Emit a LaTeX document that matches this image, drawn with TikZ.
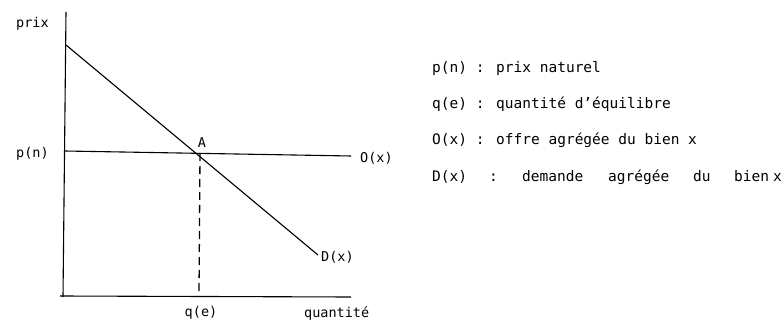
\documentclass[tikz,border=0pt]{standalone}
\usepackage{fontspec}
\setmainfont{DejaVu Sans Mono}
\begin{document}
\begin{tikzpicture}[x=1pt,y=-1pt,
  lbl/.style={inner sep=0pt,font=\fontsize{13.5}{15}\selectfont},
  leg/.style={inner sep=0pt,anchor=base west,font=\fontsize{14.5}{16}\selectfont},
  curve/.style={line width=1.1pt,black},
  dashline/.style={line width=1.3pt,dash pattern=on 8pt off 5pt}]
\useasboundingbox (0,0) rectangle (784,321);
% axes
\coordinate (ytop) at (66,12);
\coordinate (orig) at (63,297);
\coordinate (xstart) at (60,296);
\coordinate (xend) at (351,297);
\draw[curve] (ytop) -- (orig);
\draw[curve] (xstart) -- (xend);
% demand
\coordinate (d0) at (66,45);
\coordinate (d1) at (318,255);
\draw[curve] (d0) -- (d1);
% supply
\coordinate (o0) at (65,151);
\coordinate (o1) at (351,156);
\draw[curve] (o0) -- (o1);
% dashed
\coordinate (A) at (200,153);
\coordinate (qe) at (199,296);
\draw[dashline] (A) -- (qe);
% labels
\node[lbl,anchor=west] (prix) at (16,24) {prix};
\node[lbl,anchor=west] (pn) at (16,154) {p(n)};
\node[lbl,anchor=west] (Ox) at (360,158) {O(x)};
\node[lbl,anchor=west] (Dx) at (321,257) {D(x)};
\node[lbl] (Alab) at (202,143) {A};
\node[lbl] (qel) at (201,313) {q(e)};
\node[lbl,anchor=west] (quant) at (304,314) {quantité};
% legend
\node[leg] (l1) at (432,73) {p(n) : prix naturel};
\node[leg] (l2) at (432,108) {q(e) : quantité d'équilibre};
\node[leg] (l3) at (432,144) {O(x) : offre agrégée du bien x};
\node[leg] (l4a) at (432,181) {D(x)};
\node[leg] (l4b) at (489,181) {:};
\node[leg] (l4c) at (522,181) {demande};
\node[leg] (l4d) at (608,181) {agrégée};
\node[leg] (l4e) at (693,181) {du};
\node[leg] (l4f) at (734,181) {bien};
\node[leg] (l4g) at (773,181) {x};
\end{tikzpicture}
\end{document}
